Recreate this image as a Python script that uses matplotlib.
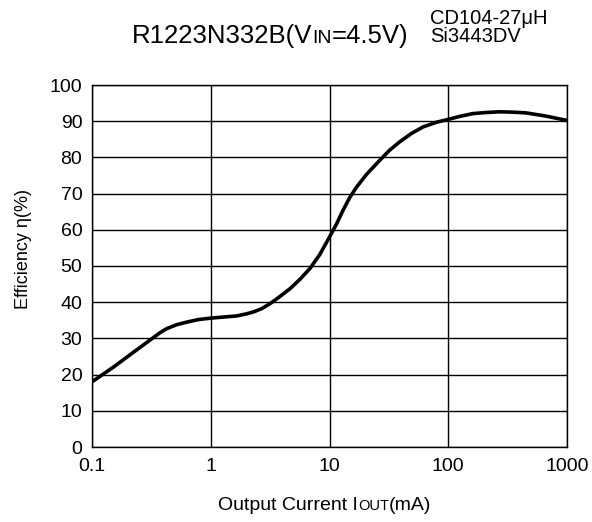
import numpy as np
import matplotlib
matplotlib.use("Agg")
import matplotlib.pyplot as plt
from matplotlib.offsetbox import TextArea, HPacker, AnnotationBbox

plt.rcParams['font.family'] = ['Liberation Sans', 'DejaVu Sans']

# efficiency curve read point by point (current in mA, efficiency in %)
iout = [0.1, 0.152, 0.224, 0.319, 0.375, 0.426, 0.518, 0.628, 0.787, 1.0,
        1.28, 1.65, 2.01, 2.28, 2.68, 3.16, 3.83, 4.64, 5.63, 6.84, 8.29,
        10.0, 11.5, 13.0, 14.8, 16.9, 20.5, 26.5, 32.1, 39.0, 48.9, 61.2,
        79.3, 100.0, 124.0, 161.0, 208.0, 270.0, 349.0, 452.0, 667.0, 1000.0]
eff = [18.0, 22.1, 26.2, 29.9, 31.6, 32.7, 33.8, 34.5, 35.2, 35.6,
       35.9, 36.2, 36.8, 37.3, 38.2, 39.6, 41.6, 43.7, 46.3, 49.3, 53.2,
       58.0, 61.7, 65.4, 68.9, 71.8, 75.3, 79.2, 82.0, 84.3, 86.6, 88.4,
       89.7, 90.5, 91.3, 92.1, 92.4, 92.6, 92.5, 92.3, 91.4, 90.2]

xticks = [0.1, 1, 10, 100, 1000]
xtick_labels = ['0.1', '1', '10', '100', '1000']
yticks = list(range(0, 101, 10))

fig = plt.figure(figsize=(5.92, 5.22), dpi=100)
ax = fig.add_axes([92/592, 1 - 447/522, 475/592, 362/522])

ax.plot(iout, eff, color='black', lw=2.6, solid_joinstyle='round', solid_capstyle='butt')

ax.set_xscale('log')
ax.set_xlim(0.1, 1000)
ax.set_ylim(0, 100)
ax.set_xticks(xticks)
ax.set_xticklabels(xtick_labels)
ax.minorticks_off()
ax.set_yticks(yticks)
ax.grid(True, color='black', lw=1.0)
ax.tick_params(length=0, labelsize=14)
ax.tick_params(axis='x', pad=8)
ax.tick_params(axis='y', pad=7)
for s in ax.spines.values():
    s.set_color('black')
    s.set_linewidth(1.0)

ax.set_ylabel('Efficiency η(%)', fontsize=13)
ax.yaxis.set_label_coords(-0.127, 0.547)

def mixed_text(parts, xy):
    boxes = [TextArea(t, textprops=dict(fontsize=fs, color='black')) for t, fs in parts]
    pack = HPacker(children=boxes, align='baseline', pad=0, sep=0)
    ab = AnnotationBbox(pack, xy, xycoords='figure pixels', frameon=False,
                        box_alignment=(0.5, 0.5))
    fig.add_artist(ab)

# title with small-caps subscript
mixed_text([('R1223N332B(V', 18.5), ('IN', 14), ('=4.5V)', 18.5)], (270, 522 - 36))
# x axis label
mixed_text([('Output Current I', 14), ('OUT', 10.5), ('(mA)', 14)], (325, 522 - 505))

fig.text(430/592, 1 - 9/522, 'CD104-27μH\nSi3443DV', fontsize=14.5, va='top', ha='left',
         linespacing=0.9)

fig.savefig('out.png', dpi=100)
